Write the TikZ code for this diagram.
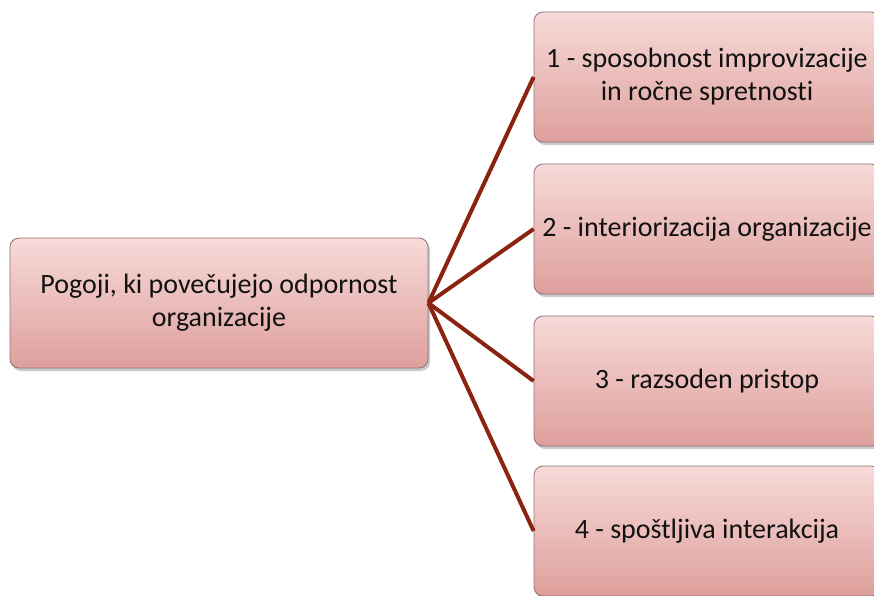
\documentclass[tikz,border=0pt]{standalone}
\usepackage{fontspec}
\setmainfont{Carlito}[Ligatures=NoCommon]
\usetikzlibrary{shadows}
\definecolor{boxtop}{HTML}{F7DAD8}
\definecolor{boxbot}{HTML}{DE9F9C}
\definecolor{boxedge}{HTML}{8E7373}
\definecolor{linkcol}{HTML}{8A2410}
\definecolor{txt}{HTML}{111111}
\tikzset{
  box/.style={rounded corners=9pt, draw=boxedge, line width=0.8pt,
    top color=boxtop, bottom color=boxbot, text=txt, align=center,
    font=\fontsize{28}{33}\selectfont, inner sep=0pt,
    drop shadow={shadow xshift=2pt, shadow yshift=-3pt, opacity=0.35, fill=black!60}},
  link/.style={draw=linkcol, line width=4pt}
}
\begin{document}
\begin{tikzpicture}[x=1pt,y=-1pt]
\useasboundingbox (0,0) rectangle (874,596);
\clip (0,0) rectangle (874,596);
\node[box, minimum width=418pt, minimum height=130pt] (root) at (219,303)
  {Pogoji, ki povečujejo odpornost\\organizacije};
\node[box, minimum width=346pt, minimum height=130pt] (c1) at (707,77)
  {1 - sposobnost improvizacije\\in ročne spretnosti};
\node[box, minimum width=346pt, minimum height=130pt] (c2) at (707,229)
  {2 - interiorizacija organizacije};
\node[box, minimum width=346pt, minimum height=130pt] (c3) at (707,381)
  {3 - razsoden pristop};
\node[box, minimum width=346pt, minimum height=130pt] (c4) at (707,531)
  {4 - spoštljiva interakcija};
\foreach \c in {c1,c2,c3,c4}
  \draw[link] (root.east) -- (\c.west);
\end{tikzpicture}
\end{document}
